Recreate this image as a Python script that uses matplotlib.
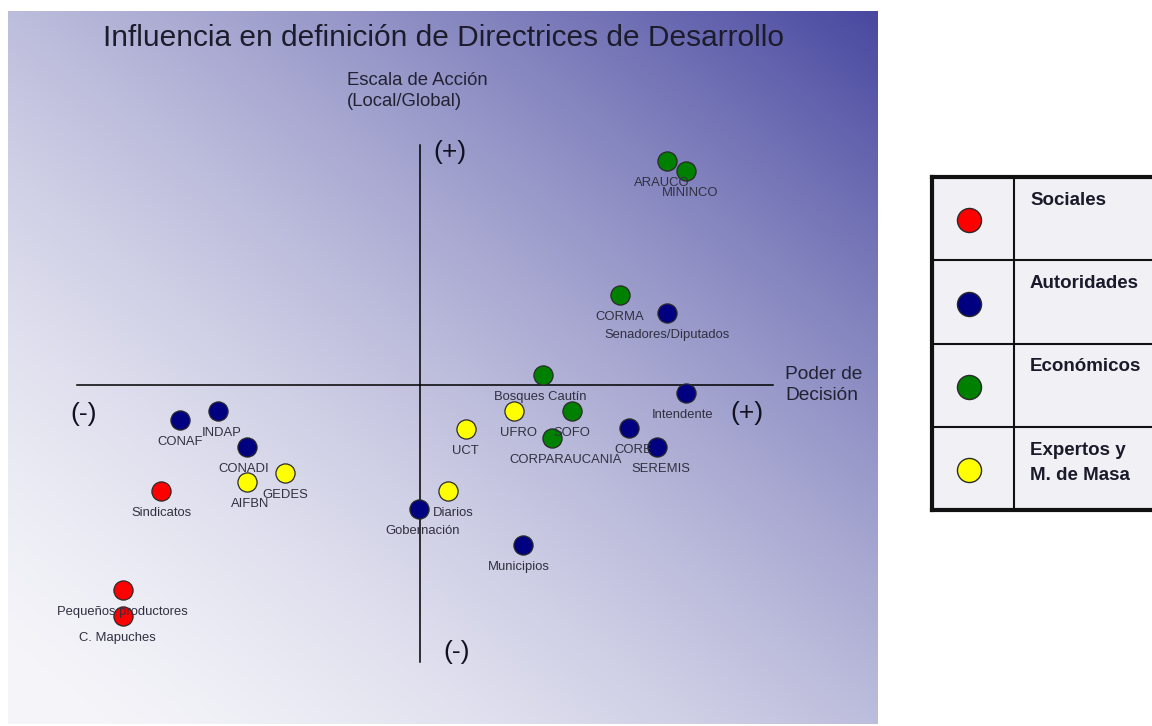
#Mapa de actores: influencia en definicion de directrices de desarrollo
import numpy as np
import matplotlib.pyplot as plt

plt.rcParams['font.family'] = ['Liberation Sans', 'DejaVu Sans']

# grupos de actores (leyenda)
groups = ['Sociales', 'Autoridades', 'Económicos', 'Expertos y\nM. de Masa']
group_colors = ['#ff0000', '#000080', '#008000', '#ffff00']

# actores: nombre, grupo, poder de decision (x), escala de accion (y)
actors = ['ARAUCO', 'MININCO', 'CORMA', 'Bosques Cautín', 'SOFO', 'CORPARAUCANIA',
          'Senadores/Diputados', 'Intendente', 'CORE', 'SEREMIS', 'CONAF', 'INDAP',
          'CONADI', 'Gobernación', 'Municipios',
          'UFRO', 'UCT', 'GEDES', 'AIFBN', 'Diarios',
          'Sindicatos', 'Pequeños productores', 'C. Mapuches']
actor_group = [2, 2, 2, 2, 2, 2,
               1, 1, 1, 1, 1, 1, 1, 1, 1,
               3, 3, 3, 3, 3,
               0, 0, 0]
poder = [7.06, 7.6, 5.71, 3.51, 4.34, 3.77,
         7.06, 7.6, 5.97, 6.77, -6.86, -5.77, -4.94, -0.03, 2.94,
         2.69, 1.31, -3.86, -4.94, 0.8,
         -7.4, -8.49, -8.49]
escala = [6.4, 6.11, 2.57, 0.29, -0.74, -1.51,
          2.06, -0.23, -1.23, -1.77, -1.0, -0.74, -1.77, -3.54, -4.57,
          -0.74, -1.26, -2.51, -2.77, -3.03,
          -3.03, -5.86, -6.6]

# small horizontal nudges of labels (pixels)
label_dx = {'ARAUCO': -5, 'MININCO': 4, 'CORPARAUCANIA': 14, 'CORE': 4,
            'SEREMIS': 4, 'INDAP': 4, 'CONADI': -3, 'Gobernación': 4,
            'Municipios': -4, 'UFRO': 4, 'AIFBN': 3, 'Diarios': 5,
            'C. Mapuches': -5, 'Intendente': -3, 'Bosques Cautín': -3}

fig = plt.figure(figsize=(11.52, 7.26), dpi=100)
W, H = 1152, 726

# main panel
ax = fig.add_axes([8 / W, 2 / H, 870 / W, 713 / H])
xmin, xmax = (8 - 420) / 35, (878 - 420) / 35
ymin, ymax = (385 - 724) / 35, (385 - 11) / 35
ax.set_xlim(xmin, xmax)
ax.set_ylim(ymin, ymax)
ax.axis('off')

# diagonal gradient white -> blue
u = np.linspace(0, 1, 400)
v = np.linspace(1, 0, 330)
U, V = np.meshgrid(u, v)
t = ((U + V) / 2) ** 1.6
c0 = np.array([246, 246, 250]) / 255
c1 = np.array([72, 72, 160]) / 255
img = c0[None, None, :] * (1 - t[..., None]) + c1[None, None, :] * t[..., None]
ax.imshow(img, extent=(xmin, xmax, ymin, ymax), aspect='auto', zorder=0)

# axes cross
ax.plot([0, 0], [-7.91, 6.86], color='black', lw=1.1, zorder=1)
ax.plot([-9.8, 10.09], [0, 0], color='black', lw=1.1, zorder=1)

ax.text(0.66, 9.92, 'Influencia en definición de Directrices de Desarrollo',
        ha='center', va='center', fontsize=21.5, color='#1c1c2c')
ax.text(-2.09, 8.4, 'Escala de Acción\n(Local/Global)', ha='left', va='center',
        fontsize=13.3, color='#222233', linespacing=1.35)
ax.text(10.43, 0.0, 'Poder de\nDecisión', ha='left', va='center',
        fontsize=13.8, color='#222233', linespacing=1.35)
ax.text(0.86, 6.66, '(+)', ha='center', va='center', fontsize=19, color='#111122')
ax.text(1.06, -7.63, '(-)', ha='center', va='center', fontsize=19, color='#111122')
ax.text(-9.6, -0.83, '(-)', ha='center', va='center', fontsize=19, color='#111122')
ax.text(9.34, -0.8, '(+)', ha='center', va='center', fontsize=19, color='#111122')

for name, g, x, y in zip(actors, actor_group, poder, escala):
    ax.scatter(x, y, s=190, color=group_colors[g], edgecolors='#2a2a2a',
               linewidths=0.9, zorder=3)
    ax.annotate(name, (x, y), xytext=(label_dx.get(name, 0), -22),
                textcoords='offset pixels', ha='center', va='center',
                fontsize=9.4, color='#303040', zorder=4)

# legend table
lax = fig.add_axes([932 / W, (726 - 510) / H, 220 / W, 333 / H])
lax.set_xlim(0, 1)
lax.set_ylim(len(groups), 0)
lax.axis('off')
lax.add_patch(plt.Rectangle((0, 0), 1.2, len(groups), facecolor='#f0f0f5',
                            edgecolor='none', zorder=0, clip_on=False))
col = 82 / 220
for r in range(1, len(groups)):
    lax.plot([0, 1.2], [r, r], color='#111111', lw=1.5, clip_on=False)
lax.plot([col, col], [0, len(groups)], color='#111111', lw=1.5)
lax.plot([0, 0], [0, len(groups)], color='#111111', lw=3, clip_on=False)
lax.plot([0, 1.2], [0, 0], color='#111111', lw=3, clip_on=False)
lax.plot([0, 1.2], [len(groups), len(groups)], color='#111111', lw=3, clip_on=False)

for i, (grp, c) in enumerate(zip(groups, group_colors)):
    lax.scatter(col / 2 - 0.02, i + 0.52, s=300, color=c, edgecolors='#2a2a2a',
                linewidths=1.0, zorder=3)
    lax.text(98 / 220, i + 0.18, grp, ha='left', va='top', fontsize=13.5,
             fontweight='bold', color='#1a1a2a', linespacing=1.6)

fig.savefig('out.png', dpi=100)
